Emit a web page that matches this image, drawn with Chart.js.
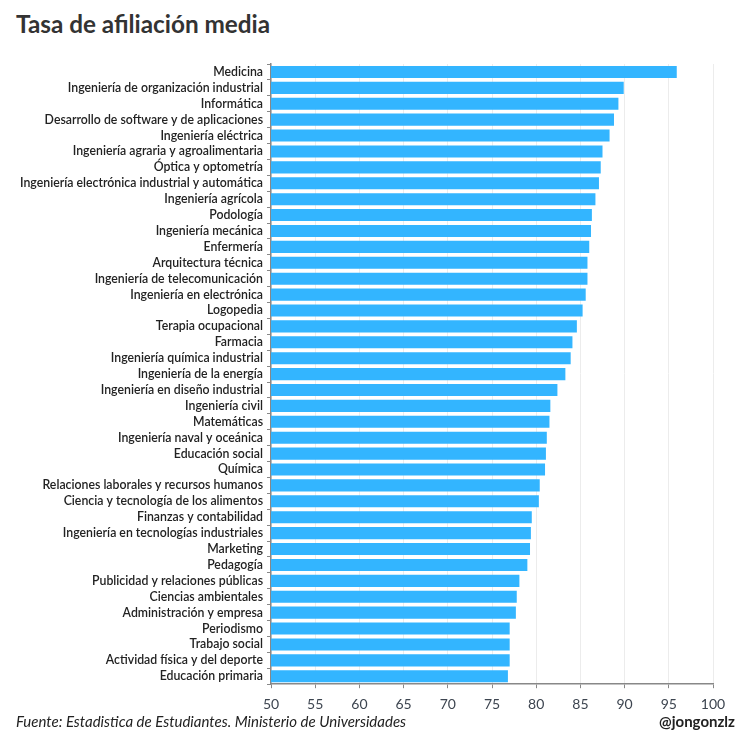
<!DOCTYPE html>
<html>
<head>
<meta charset="utf-8">
<script src="https://cdn.jsdelivr.net/npm/chart.js@4"></script>
<style>
  html, body { margin: 0; padding: 0; background: #fff; }
  body { width: 743px; height: 739px; position: relative; overflow: hidden; font-family: Lato, sans-serif; }
  #title { position: absolute; left: 16px; top: 9px; font-size: 24.3px; font-weight: bold; color: #333; }
  #source { position: absolute; left: 16px; top: 712px; font-size: 15px; font-style: italic; color: #222; }
  #handle { position: absolute; right: 8px; top: 712px; font-size: 15px; font-weight: bold; color: #222; }
  #wrap { position: absolute; left: 0; top: 0; width: 743px; height: 739px; }
</style>
</head>
<body>
<div id="title">Tasa de afiliación media</div>
<div id="wrap"><canvas id="chart"></canvas></div>
<div id="source">Fuente: Estadistica de Estudiantes. Ministerio de Universidades</div>
<div id="handle">@jongonzlz</div>
<script>
const degrees = [
  'Medicina',
  'Ingeniería de organización industrial',
  'Informática',
  'Desarrollo de software y de aplicaciones',
  'Ingeniería eléctrica',
  'Ingeniería agraria y agroalimentaria',
  'Óptica y optometría',
  'Ingeniería electrónica industrial y automática',
  'Ingeniería agrícola',
  'Podología',
  'Ingeniería mecánica',
  'Enfermería',
  'Arquitectura técnica',
  'Ingeniería de telecomunicación',
  'Ingeniería en electrónica',
  'Logopedia',
  'Terapia ocupacional',
  'Farmacia',
  'Ingeniería química industrial',
  'Ingeniería de la energía',
  'Ingeniería en diseño industrial',
  'Ingeniería civil',
  'Matemáticas',
  'Ingeniería naval y oceánica',
  'Educación social',
  'Química',
  'Relaciones laborales y recursos humanos',
  'Ciencia y tecnología de los alimentos',
  'Finanzas y contabilidad',
  'Ingeniería en tecnologías industriales',
  'Marketing',
  'Pedagogía',
  'Publicidad y relaciones públicas',
  'Ciencias ambientales',
  'Administración y empresa',
  'Periodismo',
  'Trabajo social',
  'Actividad física y del deporte',
  'Educación primaria'
];

const affiliationRate = [
  95.9, 89.9, 89.3, 88.8, 88.3, 87.5, 87.3, 87.1, 86.7, 86.3,
  86.2, 86.0, 85.8, 85.8, 85.6, 85.25, 84.6, 84.1, 83.9, 83.3,
  82.4, 81.6, 81.5, 81.2, 81.1, 81.0, 80.4, 80.3, 79.5, 79.4,
  79.3, 79.0, 78.1, 77.8, 77.7, 77.0, 77.0, 77.0, 76.8
];

const xMin = 50, xMax = 100, xStep = 5;

new Chart(document.getElementById('chart'), {
  type: 'bar',
  data: {
    labels: degrees,
    datasets: [{
      data: affiliationRate,
      backgroundColor: '#33b5ff',
      categoryPercentage: 0.8,
      barPercentage: 0.95
    }]
  },
  options: {
    indexAxis: 'y',
    responsive: true,
    maintainAspectRatio: false,
    animation: false,
    layout: { padding: { top: 64, right: 30, bottom: 18, left: 0 } },
    plugins: {
      legend: { display: false },
      tooltip: { enabled: false }
    },
    scales: {
      x: {
        min: xMin,
        max: xMax,
        ticks: { stepSize: xStep, color: '#3d4550', font: { family: 'Lato', size: 14 }, padding: 8 },
        grid: { color: '#ececec', tickColor: '#888', tickLength: 4 },
        border: { color: '#888', width: 1.5 }
      },
      y: {
        afterFit: (scale) => { scale.width = 271; },
        ticks: { color: '#222', font: { family: 'Lato', size: 12.3, weight: '600' }, padding: 4, autoSkip: false },
        grid: { drawOnChartArea: false, color: '#888', tickLength: 4 },
        border: { color: '#888', width: 1.5 }
      }
    }
  }
});
</script>
</body>
</html>
